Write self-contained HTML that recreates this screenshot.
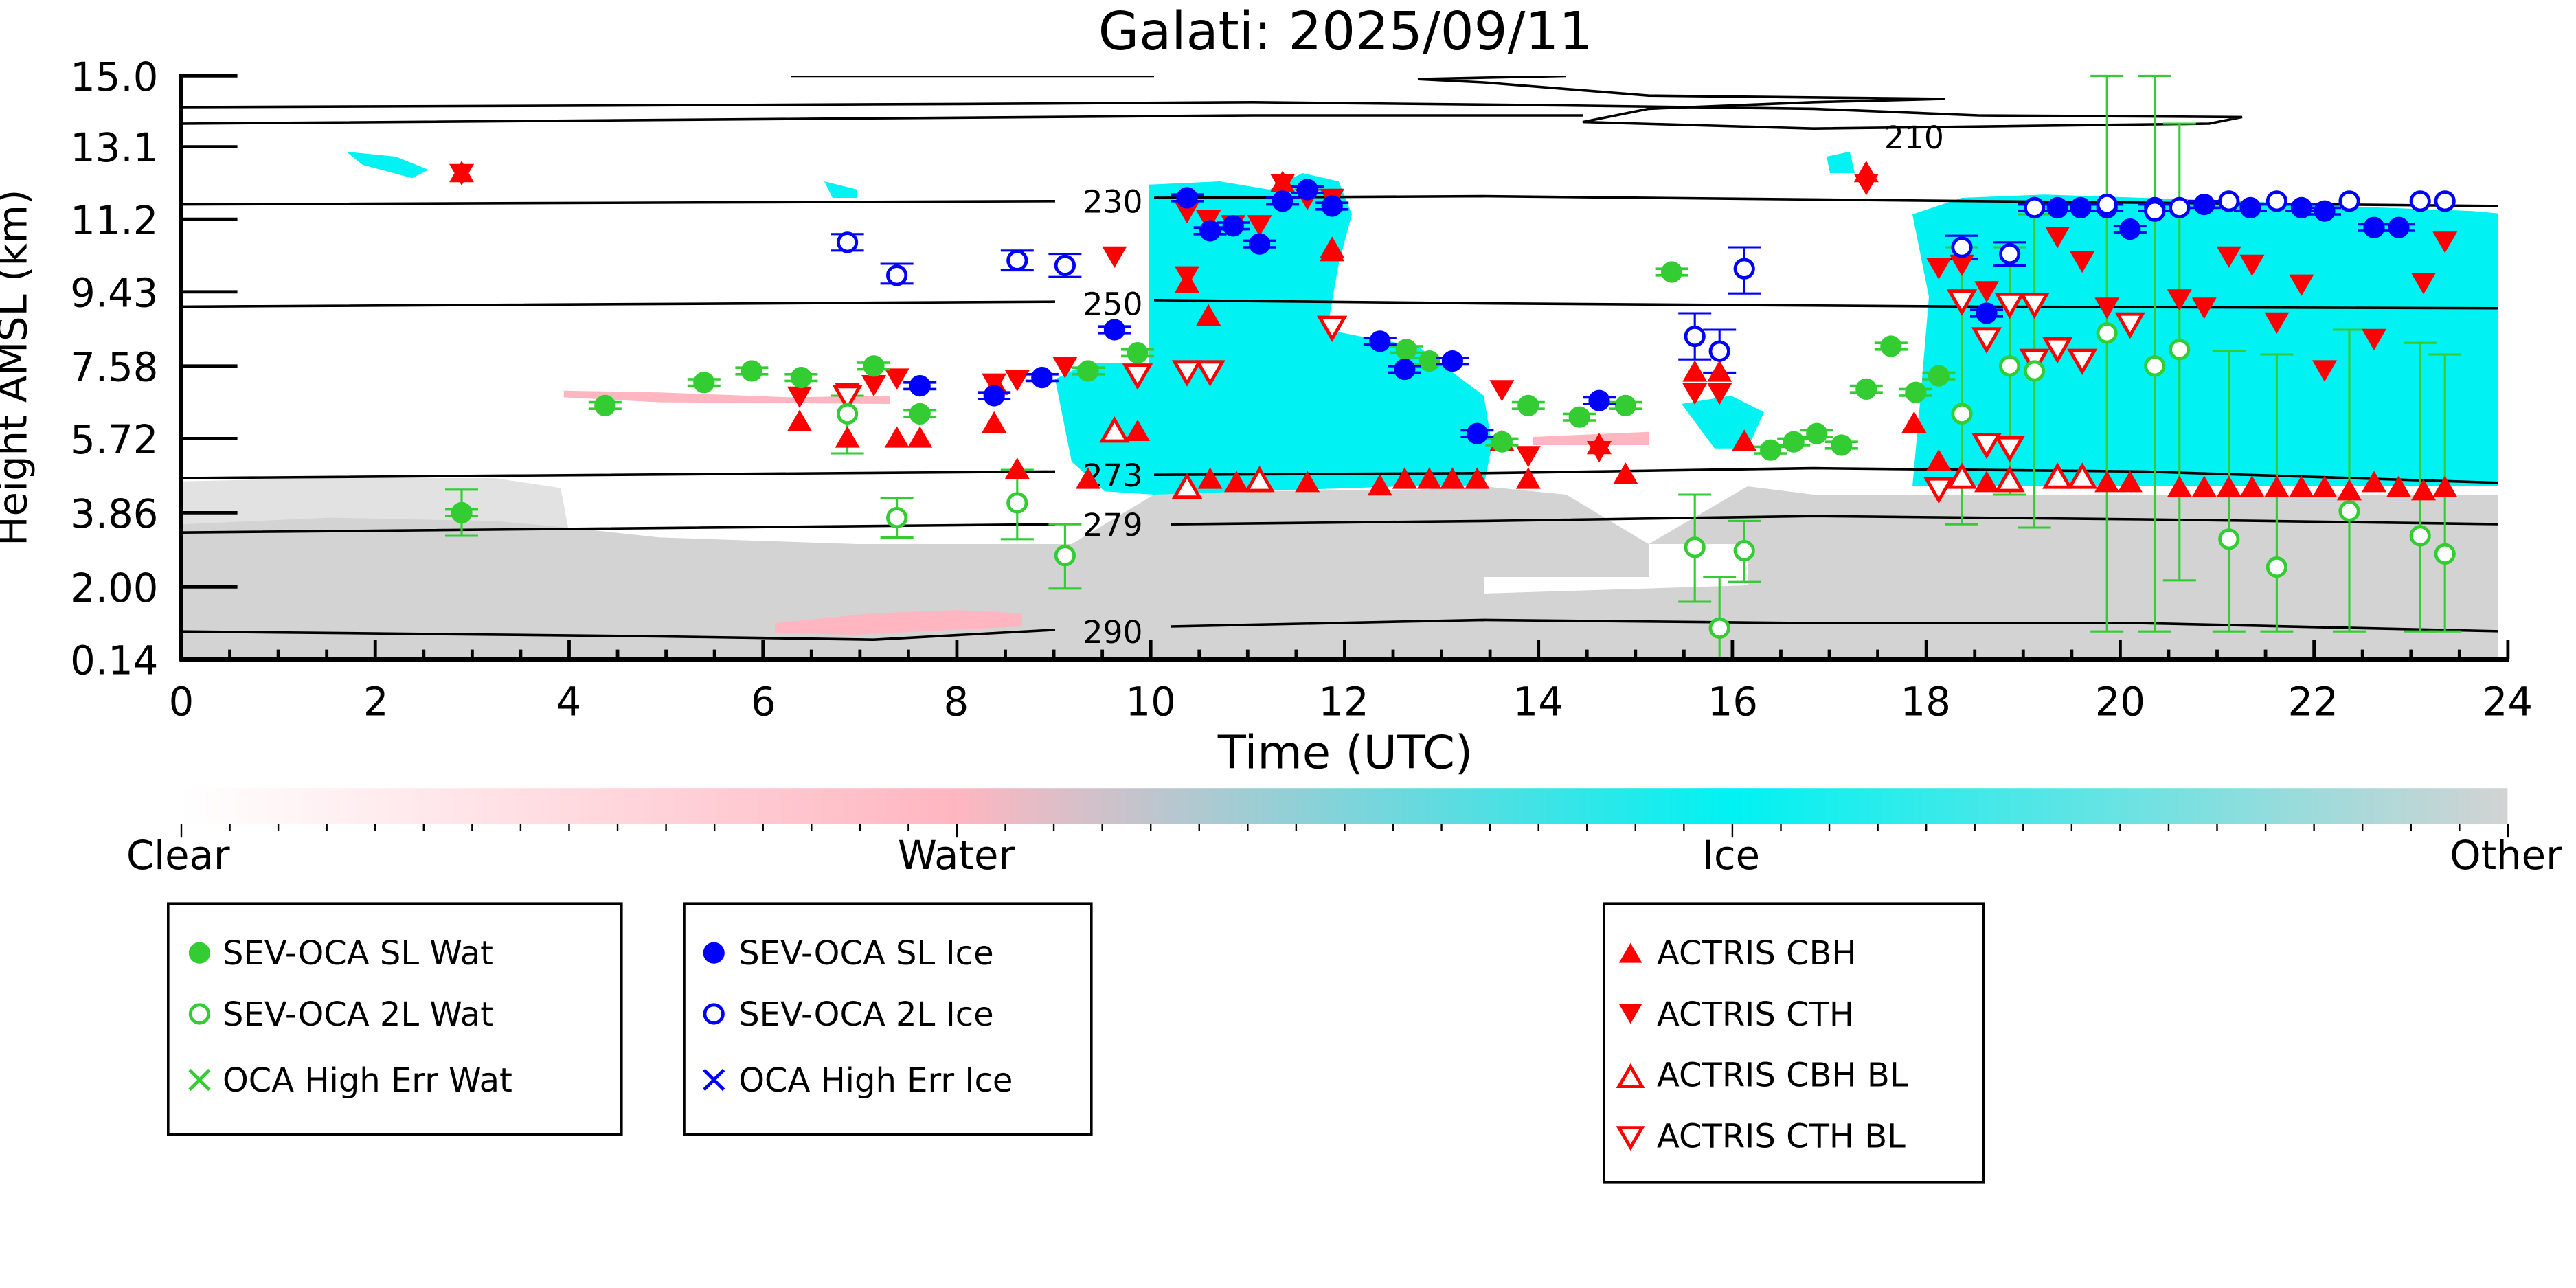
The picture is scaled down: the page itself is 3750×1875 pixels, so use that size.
<!DOCTYPE html>
<html><head><meta charset="utf-8"><style>
html,body{margin:0;padding:0;background:#fff;}
svg{display:block;}
text{font-family:"DejaVu Sans","Liberation Sans",sans-serif;}
</style></head><body>
<svg id="s" width="3750" height="1875" viewBox="0 0 1562.5 781.25" xmlns="http://www.w3.org/2000/svg">
<defs>
<linearGradient id="cb" x1="0" x2="1" y1="0" y2="0">
<stop offset="0" stop-color="#ffffff"/><stop offset="0.333" stop-color="#ffb6c1"/>
<stop offset="0.667" stop-color="#00f2f2"/><stop offset="1" stop-color="#d3d3d3"/>
</linearGradient>
<clipPath id="pc"><rect x="110" y="46" width="1405" height="354"/></clipPath>
</defs>
<rect width="1562.5" height="781.25" fill="#fff"/>
<g clip-path="url(#pc)">
<polygon fill="#e2e2e2" points="110,292 200,290 300,290 340,296 345,322 110,322"/>
<polygon fill="#d3d3d3" points="110,318 200,314 300,316 345,320 400,326 460,328 520,330 600,330 650,330 700,300 760,298 860,297 900,295 950,300 1000,330 1060,295 1100,300 1150,300 1200,300 1300,300 1400,300 1521,300 1521,400 110,400"/>
<polygon fill="#fff" points="900,350 1000,350 1000,330 1060,330 1060,355 900,360"/>
<polygon fill="#00f2f2" points="697,112 740,110 770,115 790,105 812,110 820,130 812,160 805,200 830,205 860,210 900,240 905,270 900,295 850,295 760,298 700,300 670,298 650,280 640,230 660,220 697,220"/>
<polygon fill="#00f2f2" points="1160,130 1190,120 1240,118 1300,120 1360,122 1420,125 1500,128 1521,130 1521,295 1160,295 1165,240 1170,180"/>
<polygon fill="#00f2f2" points="1020,245 1050,240 1070,250 1060,272 1040,272"/>
<polygon fill="#00f2f2" points="210,92 240,95 260,103 250,108 220,100"/>
<polygon fill="#00f2f2" points="500,110 520,115 520,120 505,120"/>
<polygon fill="#00f2f2" points="1108,95 1122,92 1125,105 1110,105"/>
<polygon fill="#ffb6c1" points="342,237 400,238 480,241 540,240 540,245 400,244 342,241"/>
<polygon fill="#ffb6c1" points="470,378 530,372 580,370 620,372 620,380 520,385 470,384"/>
<polygon fill="#ffb6c1" points="930,265 1000,262 1000,270 930,270"/>
</g>
<g fill="none" stroke="#000" stroke-width="1.5" clip-path="url(#pc)">
<path d="M480,46 L700,46 M110,65 L380,64 L600,63 L760,62 L950,64 L1100,66 L1200,70 L1360,71 L1340,75 L1100,78 L960,74 L1000,66 L1100,62 L1180,60 L1000,58 L900,50 L860,48 L950,46 M110,75 L500,72 L760,70 L960,70"/>
<path d="M110,124 L640,122 M700,120 L900,119 L1200,122 L1521,125"/>
<path d="M110,186 L640,183 M700,182 L900,184 L1200,186 L1521,187"/>
<path d="M110,290 L640,286 M700,288 L900,287 L1100,284 L1300,286 L1521,293"/>
<path d="M110,323 L640,318 M710,318 L900,316 L1100,313 L1300,315 L1521,318"/>
<path d="M110,383 L400,386 L530,388 L640,382 M710,380 L900,376 L1100,378 L1300,378 L1521,383"/>
</g>
<g font-size="19" text-anchor="middle" fill="#000">
<text x="1161" y="90">210</text><text x="675" y="129">230</text><text x="675" y="191">250</text>
<text x="675" y="295">273</text><text x="675" y="325">279</text><text x="675" y="390">290</text>
</g>
<g id="mk"></g>
<g stroke="#000" stroke-width="2.5"><line x1="110" y1="45" x2="110" y2="401"/><line x1="109" y1="400" x2="1522" y2="400"/></g>
<g id="ax" stroke="#000" stroke-width="2"></g>
<g font-size="24" fill="#000">
<text x="816" y="30" text-anchor="middle" font-size="32">Galati: 2025/09/11</text>
<g text-anchor="end">
<text x="96" y="55">15.0</text><text x="96" y="98">13.1</text><text x="96" y="142">11.2</text><text x="96" y="186">9.43</text>
<text x="96" y="231">7.58</text><text x="96" y="275">5.72</text><text x="96" y="320">3.86</text><text x="96" y="365">2.00</text><text x="96" y="409">0.14</text>
</g>
<g text-anchor="middle">
<text x="110" y="434">0</text><text x="228" y="434">2</text><text x="345" y="434">4</text><text x="463" y="434">6</text>
<text x="580" y="434">8</text><text x="698" y="434">10</text><text x="815" y="434">12</text><text x="933" y="434">14</text>
<text x="1051" y="434">16</text><text x="1168" y="434">18</text><text x="1286" y="434">20</text><text x="1403" y="434">22</text><text x="1521" y="434">24</text>
<text x="816" y="466" font-size="28">Time (UTC)</text>
<text x="108" y="527">Clear</text><text x="580" y="527">Water</text><text x="1050" y="527">Ice</text><text x="1520" y="527">Other</text>
</g>
<text transform="translate(16,223) rotate(-90)" text-anchor="middle">Height AMSL (km)</text>
</g>
<rect x="110" y="478" width="1411" height="22" fill="url(#cb)"/>
<g id="cbt" stroke="#000" stroke-width="1"></g>
<g fill="none" stroke="#000" stroke-width="1.5">
<rect x="102" y="548" width="275" height="140"/><rect x="415" y="548" width="247" height="140"/><rect x="973" y="548" width="230" height="169"/>
</g>
<g font-size="20" fill="#000">
<text x="135" y="585">SEV-OCA SL Wat</text><text x="135" y="622">SEV-OCA 2L Wat</text><text x="135" y="662">OCA High Err Wat</text>
<text x="448" y="585">SEV-OCA SL Ice</text><text x="448" y="622">SEV-OCA 2L Ice</text><text x="448" y="662">OCA High Err Ice</text>
<text x="1005" y="585">ACTRIS CBH</text><text x="1005" y="622">ACTRIS CTH</text><text x="1005" y="659">ACTRIS CBH BL</text><text x="1005" y="696">ACTRIS CTH BL</text>
</g>
<circle cx="121" cy="578" r="6.5" fill="#33cc33"/>
<circle cx="121" cy="615" r="5.5" fill="#fff" stroke="#33cc33" stroke-width="2"/>
<path d="M115,649 L127,661 M127,649 L115,661" stroke="#33cc33" stroke-width="2"/>
<circle cx="433" cy="578" r="6.5" fill="#0000ff"/>
<circle cx="433" cy="615" r="5.5" fill="#fff" stroke="#0000ff" stroke-width="2"/>
<path d="M427,649 L439,661 M439,649 L427,661" stroke="#0000ff" stroke-width="2"/>
<polygon points="989,572 996,584 982,584" fill="#f00"/>
<polygon points="982,609 996,609 989,621" fill="#f00"/>
<polygon points="989,647 996,659 982,659" fill="#fff" stroke="#f00" stroke-width="2"/>
<polygon points="982,684 996,684 989,696" fill="#fff" stroke="#f00" stroke-width="2"/>
<script>
var NS="http://www.w3.org/2000/svg";
function el(p,t,a){var e=document.createElementNS(NS,t);for(var k in a)e.setAttribute(k,a[k]);p.appendChild(e);return e;}
var ax=document.getElementById('ax');
for(var i=0;i<=48;i++){var x=110+i*29.4;var L=(i%4==0)?12:6;el(ax,'line',{x1:x,x2:x,y1:400,y2:400-L});}
[46,89,133,177,222,266,311,356,400].forEach(function(y){el(ax,'line',{x1:110,x2:144,y1:y,y2:y});});
var cbt=document.getElementById('cbt');
for(var i=0;i<=48;i++){var x=110+i*29.4;el(cbt,'line',{x1:x,x2:x,y1:500,y2:(i%16==0)?508:504});}
var mk=document.getElementById('mk');
var G='#33cc33',B='#0000ff',R='#ff0000';
function hb(x,y,c){el(mk,'line',{x1:x-10,x2:x+10,y1:y-2,y2:y-2,stroke:c,'stroke-width':1.5});el(mk,'line',{x1:x-10,x2:x+10,y1:y+2,y2:y+2,stroke:c,'stroke-width':1.5});}
function vb(x,y0,y1,c){el(mk,'line',{x1:x,x2:x,y1:y0,y2:y1,stroke:c,'stroke-width':1.3});el(mk,'line',{x1:x-10,x2:x+10,y1:y0,y2:y0,stroke:c,'stroke-width':1.3});el(mk,'line',{x1:x-10,x2:x+10,y1:y1,y2:y1,stroke:c,'stroke-width':1.3});}
[[280,297,325],[514,240,275],[544,302,326],[617,285,327],[646,318,357],[1028,300,365],[1043,350,400],[1058,316,353],[1190,150,318],[1219,150,300],[1234,130,320],[1278,46,383],[1307,46,383],[1322,75,352],[1352,213,383],[1381,215,383],[1425,200,383],[1468,208,383],[1483,215,383]].forEach(function(a){vb(a[0],a[1],a[2],G);});
[[514,142,152],[544,160,172],[617,152,164],[646,154,168],[1028,190,218],[1043,200,226],[1058,150,178],[1190,143,157],[1219,147,161]].forEach(function(a){vb(a[0],a[1],a[2],B);});
function up(x,y,open){el(mk,'polygon',{points:(x)+','+(y-7.5)+' '+(x+7.5)+','+(y+5.5)+' '+(x-7.5)+','+(y+5.5),fill:open?'#fff':R,stroke:R,'stroke-width':open?2:0});}
function dn(x,y,open){el(mk,'polygon',{points:(x-7.5)+','+(y-5.5)+' '+(x+7.5)+','+(y-5.5)+' '+(x)+','+(y+7.5),fill:open?'#fff':R,stroke:R,'stroke-width':open?2:0});}
[[280,105],[485,256],[514,266],[544,266],[558,266],[603,257],[617,285],[660,291],[690,262],[734,291],[750,293],[764,293],[778,111],[793,293],[808,153],[837,295],[852,291],[867,291],[881,291],[896,291],[911,268],[927,291],[970,270],[986,288],[1028,226],[1043,226],[1058,268],[1132,105],[1161,257],[1176,280],[1205,293],[1219,293],[1278,293],[1292,293],[1322,296],[1337,296],[1352,296],[1366,296],[1381,296],[1396,296],[1410,296],[1425,298],[1440,293],[1455,296],[1470,298],[1483,296],[604,234],[720,172],[733,192],[808,151]].forEach(function(a){up(a[0],a[1]);});
[[280,105],[485,240],[514,238],[530,233],[544,229],[603,232],[617,230],[646,222],[676,155],[720,167],[748,136],[764,136],[778,111],[793,120],[808,120],[911,236],[927,276],[970,273],[1028,238],[1043,238],[1132,111],[1176,162],[1190,160],[1205,176],[1248,143],[1263,158],[1278,186],[1322,181],[1337,186],[1352,155],[1366,160],[1381,195],[1396,172],[1410,224],[1440,205],[1470,171],[1483,146],[720,128],[733,133]].forEach(function(a){dn(a[0],a[1]);});
[[720,296],[676,262],[764,292],[1248,290],[1263,290],[1190,290],[1219,292]].forEach(function(a){up(a[0],a[1],1);});
[[514,240],[690,227],[720,225],[734,225],[808,198],[1205,205],[1219,184],[1234,184],[1234,218],[1248,211],[1263,218],[1292,196],[1219,271],[1205,269],[1176,296],[1190,182]].forEach(function(a){dn(a[0],a[1],1);});
function fc(x,y,c){hb(x,y,c);el(mk,'circle',{cx:x,cy:y,r:6.5,fill:c});}
function oc(x,y,c){el(mk,'circle',{cx:x,cy:y,r:5.5,fill:'#fff',stroke:c,'stroke-width':2});}
[[280,311],[367,246],[427,232],[456,225],[486,229],[530,222],[558,251],[660,225],[690,214],[853,212],[867,219],[911,268],[927,246],[958,253],[986,246],[1014,165],[1074,273],[1088,268],[1102,263],[1117,270],[1132,236],[1147,210],[1162,238],[1176,228]].forEach(function(a){fc(a[0],a[1],G);});
[[558,234],[603,240],[632,229],[676,200],[720,120],[734,140],[748,137],[764,148],[778,122],[793,115],[808,125],[837,207],[852,224],[881,219],[896,263],[970,243],[1205,190],[1234,126],[1248,126],[1262,126],[1278,126],[1292,139],[1307,126],[1337,124],[1365,126],[1396,126],[1410,128],[1440,138],[1455,138]].forEach(function(a){fc(a[0],a[1],B);});
[[514,251],[544,314],[617,305],[646,337],[1028,332],[1043,381],[1058,334],[1190,251],[1219,222],[1234,225],[1278,202],[1307,222],[1322,212],[1352,327],[1381,344],[1425,310],[1468,325],[1483,336]].forEach(function(a){oc(a[0],a[1],G);});
[[514,147],[544,167],[617,158],[646,161],[1028,204],[1043,213],[1058,163],[1190,150],[1219,154],[1234,126],[1278,124],[1307,128],[1322,126],[1352,122],[1381,122],[1425,122],[1468,122],[1483,122]].forEach(function(a){oc(a[0],a[1],B);});
</script>
</svg>
</body></html>
